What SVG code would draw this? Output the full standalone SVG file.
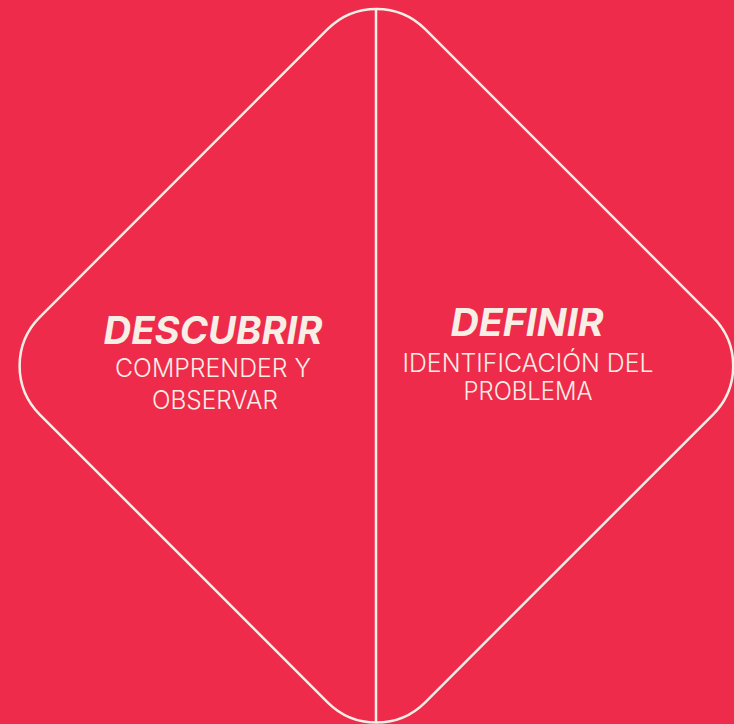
<svg xmlns="http://www.w3.org/2000/svg" width="734" height="724" viewBox="0 0 734 724">
  <style>
    .outline { fill: none; stroke: #F7EEE6; stroke-width: 2.5; }
    .title { font-family: Inter, "Open Sans", "Liberation Sans", sans-serif; font-weight: 700; font-style: italic; font-size: 38px; fill: #F7EEE6; text-anchor: middle; }
    .sub { font-family: Inter, "Open Sans", "Liberation Sans", sans-serif; font-weight: 300; font-size: 25px; fill: #F7EEE6; text-anchor: middle; }
  </style>
  <rect x="0" y="0" width="734" height="724" fill="#EE2B4A"/>
  <g id="diamond">
    <rect class="outline" x="-272.5" y="-272.5" width="545" height="545" rx="69" ry="69" transform="translate(376.4 365.8) rotate(45)"/>
  </g>
  <g id="connectors">
    <line class="outline" x1="376" y1="9" x2="376" y2="723" stroke-width="2"/>
  </g>
  <g id="descubrir">
    <text class="title" x="213" y="344" textLength="219" lengthAdjust="spacingAndGlyphs">DESCUBRIR</text>
    <text class="sub" x="213" y="377" textLength="196" lengthAdjust="spacingAndGlyphs">COMPRENDER Y</text>
    <text class="sub" x="215" y="409" textLength="126" lengthAdjust="spacingAndGlyphs">OBSERVAR</text>
  </g>
  <g id="definir">
    <text class="title" x="527" y="336" textLength="153" lengthAdjust="spacingAndGlyphs">DEFINIR</text>
    <text class="sub" x="528" y="372" textLength="251" lengthAdjust="spacingAndGlyphs">IDENTIFICACIÓN DEL</text>
    <text class="sub" x="528" y="400" textLength="129" lengthAdjust="spacingAndGlyphs">PROBLEMA</text>
  </g>
</svg>
